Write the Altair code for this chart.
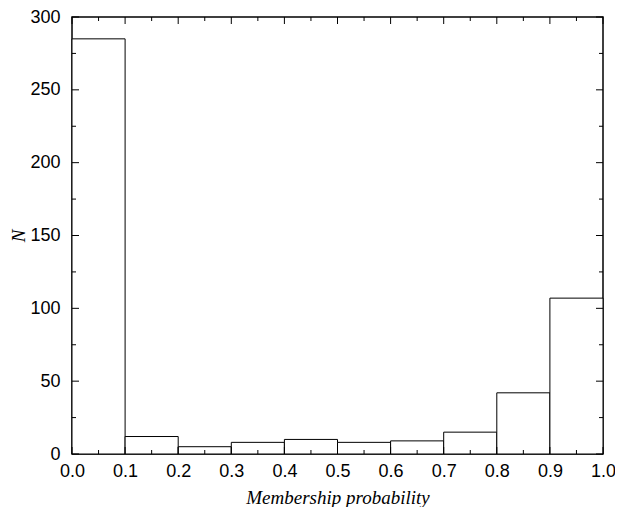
import altair as alt
import pandas as pd
import numpy as np

bin_start = [0.0, 0.1, 0.2, 0.3, 0.4, 0.5, 0.6, 0.7, 0.8, 0.9]
bin_end = [0.1, 0.2, 0.3, 0.4, 0.5, 0.6, 0.7, 0.8, 0.9, 1.0]
counts = [285, 12, 5, 8, 10, 8, 9, 15, 42, 107]

x_major = [round(v, 2) for v in np.arange(0, 1.0001, 0.1)]
x_minor = [round(v, 2) for v in np.arange(0.05, 1.0, 0.1)]
y_major = [0, 50, 100, 150, 200, 250, 300]
y_minor = [25, 75, 125, 175, 225, 275]

W, H = 531, 437
MAJ, MIN = 7, 4

bars_df = pd.DataFrame({"b0": bin_start, "b1": bin_end, "n": counts})
xs = alt.Scale(domain=[0, 1], nice=False, zero=False)
ys = alt.Scale(domain=[0, 300], nice=False)

bars = alt.Chart(bars_df).mark_rect(fill="white", stroke="black", strokeWidth=1).encode(
    x=alt.X("b0:Q", scale=xs,
            axis=alt.Axis(values=x_major, format=".1f", ticks=False, domain=False, grid=False,
                          labelFont="Liberation Sans", labelFontSize=18, labelColor="black",
                          labelPadding=8, labelFlush=False,
                          title="Membership probability", titleFont="Liberation Serif",
                          titleFontStyle="italic", titleFontWeight="normal", titleFontSize=19,
                          titleColor="black", titlePadding=8)),
    x2="b1:Q",
    y=alt.Y("n:Q", scale=ys,
            axis=alt.Axis(values=y_major, ticks=False, domain=False, grid=False,
                          labelFont="Liberation Sans", labelFontSize=18, labelColor="black",
                          labelPadding=12, labelFlush=False,
                          title="N", titleFont="Liberation Serif", titleFontStyle="italic",
                          titleFontWeight="normal", titleFontSize=19, titleColor="black",
                          titlePadding=1)),
    y2=alt.datum(0),
)

def xticks(vals, length):
    df = pd.DataFrame({"v": vals})
    bottom = alt.Chart(df).mark_rule(color="black", strokeWidth=1).encode(
        x=alt.X("v:Q", scale=xs), y=alt.value(H), y2=alt.value(H - length))
    top = alt.Chart(df).mark_rule(color="black", strokeWidth=1).encode(
        x=alt.X("v:Q", scale=xs), y=alt.value(0), y2=alt.value(length))
    return bottom + top

def yticks(vals, length):
    df = pd.DataFrame({"v": vals})
    left = alt.Chart(df).mark_rule(color="black", strokeWidth=1).encode(
        y=alt.Y("v:Q", scale=ys), x=alt.value(0), x2=alt.value(length))
    right = alt.Chart(df).mark_rule(color="black", strokeWidth=1).encode(
        y=alt.Y("v:Q", scale=ys), x=alt.value(W), x2=alt.value(W - length))
    return left + right

chart = alt.layer(
    bars,
    xticks(x_major, MAJ), xticks(x_minor, MIN),
    yticks(y_major, MAJ), yticks(y_minor, MIN),
).properties(
    width=W, height=H,
    autosize=alt.AutoSizeParams(type="none"),
    padding={"left": 64, "top": 9, "right": 12, "bottom": 53},
    background="white",
).configure_view(stroke="black", strokeWidth=1.5)

chart.save("out.html", embed_options={"renderer": "svg", "actions": False})
